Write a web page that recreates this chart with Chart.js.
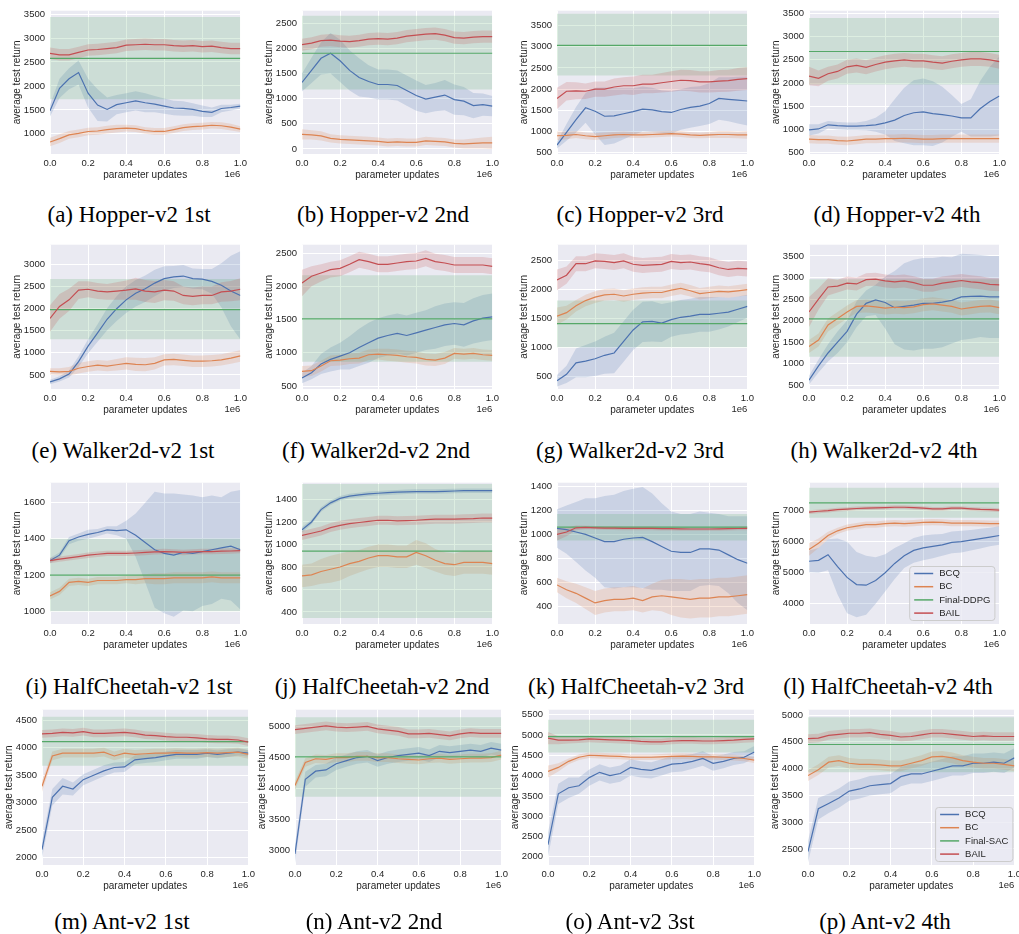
<!DOCTYPE html>
<html lang="en">
<head>
<meta charset="UTF-8">
<title>BAIL learning curves</title>
<script src="https://cdn.jsdelivr.net/npm/chart.js@4"></script>
<style>
  body { margin: 0; background: #fff; width: 1019px; height: 934px; position: relative; overflow: hidden; }
  canvas { position: absolute; }
  .cap { position: absolute; transform: translateX(-50%); white-space: nowrap;
         font-family: 'Liberation Serif', 'Times New Roman', serif; font-size: 23px; line-height: 1; color: #000; }
</style>
</head>
<body>
<script>
// parameter updates (x 1e6)
const steps = [0, 0.05, 0.1, 0.15, 0.2, 0.25, 0.3, 0.35, 0.4, 0.45, 0.5, 0.55, 0.6, 0.65, 0.7, 0.75, 0.8, 0.85, 0.9, 0.95, 1.0];
const xTicks = [0, 0.2, 0.4, 0.6, 0.8, 1.0];

// (a) Hopper-v2 1st
const a_bcq    = [1480,1950,2150,2280,1850,1600,1510,1610,1650,1690,1650,1620,1580,1540,1530,1510,1470,1450,1530,1550,1580];
const a_bcqSd  = [120,200,220,250,300,330,250,200,200,200,200,170,160,150,150,130,120,100,80,60,50];
const a_bc     = [830,900,980,1010,1050,1060,1090,1110,1120,1110,1070,1050,1050,1090,1130,1150,1160,1180,1170,1140,1100];
const a_bcSd   = [90,90,80,80,80,80,80,80,70,70,70,70,70,70,70,70,70,70,70,70,60];
const a_bail   = [2680,2650,2650,2700,2750,2760,2780,2800,2850,2860,2870,2860,2860,2840,2830,2840,2820,2830,2800,2780,2780];
const a_bailSd = [120,120,120,120,120,120,120,120,120,120,120,120,120,120,120,120,120,120,120,120,120];
const a_final  = [2575, 1720, 3440];
const a_yTicks = [1000, 1500, 2000, 2500, 3000, 3500];

// (b) Hopper-v2 2nd
const b_bcq    = [1320,1560,1800,1900,1750,1560,1420,1340,1280,1280,1260,1160,1060,990,1030,1070,980,950,860,880,850];
const b_bcqSd  = [180,250,320,400,420,400,380,320,300,300,300,300,300,280,280,300,300,280,250,220,200];
const b_bc     = [290,280,260,210,190,180,170,160,150,130,140,130,130,160,150,140,110,100,110,120,120];
const b_bcSd   = [100,90,90,80,80,80,80,80,80,80,80,80,80,80,80,80,80,90,100,110,120];
const b_bail   = [2070,2100,2150,2160,2140,2130,2150,2180,2190,2180,2200,2240,2260,2280,2290,2260,2210,2200,2220,2230,2230];
const b_bailSd = [120,120,120,120,120,120,120,120,120,120,120,120,120,120,120,120,120,120,120,120,120];
const b_final  = [1900, 1180, 2645];
const b_yTicks = [0, 500, 1000, 1500, 2000, 2500];

// (c) Hopper-v2 3rd
const c_bcq    = [680,980,1280,1560,1480,1360,1370,1420,1470,1530,1510,1470,1450,1520,1570,1600,1660,1780,1760,1740,1720];
const c_bcqSd  = [80,200,300,350,550,680,650,600,550,530,520,500,500,480,480,470,480,500,520,550,580];
const c_bc     = [900,910,930,900,880,900,920,930,920,920,930,940,950,940,920,910,920,930,930,920,920];
const c_bcSd   = [100,90,80,80,80,80,70,70,70,70,70,70,70,70,70,70,70,80,80,80,90];
const c_bail   = [1780,1950,1960,1950,2000,2000,2050,2080,2080,2120,2120,2150,2180,2210,2200,2170,2170,2190,2200,2230,2250];
const c_bailSd = [250,220,200,180,180,180,200,200,220,220,220,230,240,250,250,250,250,260,260,270,270];
const c_final  = [3030, 2320, 3780];
const c_yTicks = [500, 1000, 1500, 2000, 2500, 3000, 3500];

// (d) Hopper-v2 4th
const d_bcq    = [990,1010,1100,1080,1070,1070,1080,1100,1140,1200,1300,1360,1380,1340,1320,1290,1250,1250,1450,1600,1720];
const d_bcqSd  = [120,100,80,80,80,80,100,150,250,450,600,700,720,700,600,450,300,400,600,750,850];
const d_bc     = [790,780,780,760,750,770,790,790,800,800,810,800,790,790,800,800,800,800,800,800,800];
const d_bcSd   = [90,90,90,90,90,90,90,90,90,90,90,90,90,90,90,90,90,90,90,90,90];
const d_bail   = [2150,2100,2200,2250,2350,2380,2340,2400,2450,2480,2500,2480,2480,2450,2430,2470,2500,2520,2520,2500,2460];
const d_bailSd = [200,170,150,150,150,150,150,150,150,150,150,150,150,150,150,150,150,150,150,150,150];
const d_final  = [2680, 1970, 3400];
const d_yTicks = [500, 1000, 1500, 2000, 2500, 3000, 3500];

// (e) Walker2d-v2 1st
const e_bcq    = [340,410,520,800,1150,1450,1760,2000,2200,2350,2450,2580,2680,2720,2740,2680,2670,2620,2530,2400,2300];
const e_bcqSd  = [50,60,80,120,160,200,250,280,300,300,300,300,280,250,250,230,230,280,500,800,1000];
const e_bc     = [580,570,580,650,690,720,700,730,760,740,730,760,840,850,830,810,810,820,840,880,930];
const e_bcSd   = [70,80,100,120,120,120,120,130,140,150,150,140,130,130,130,130,130,130,130,130,130];
const e_bail   = [1780,2050,2200,2420,2440,2400,2380,2400,2420,2450,2400,2380,2420,2400,2300,2280,2300,2300,2380,2400,2440];
const e_bailSd = [300,280,250,200,180,180,180,200,220,250,250,250,230,220,200,200,200,200,220,230,250];
const e_final  = [1980, 1310, 2670];
const e_yTicks = [500, 1000, 1500, 2000, 2500, 3000];

// (f) Walker2d-v2 2nd
const f_bcq    = [620,700,830,900,950,1000,1080,1150,1220,1260,1290,1260,1300,1340,1380,1420,1440,1420,1480,1520,1540];
const f_bcqSd  = [80,100,150,180,200,250,280,300,300,300,300,300,300,300,320,320,320,330,340,350,350];
const f_bc     = [720,730,800,880,890,910,920,970,980,970,960,940,930,900,890,920,990,980,990,970,960];
const f_bcSd   = [80,80,80,80,80,80,80,80,80,90,90,90,90,90,90,90,80,80,80,80,80];
const f_bail   = [2050,2150,2200,2250,2270,2330,2400,2370,2330,2330,2350,2370,2380,2420,2370,2350,2320,2320,2320,2320,2300];
const f_bailSd = [200,150,130,120,120,120,120,120,120,120,120,120,120,120,120,120,120,120,120,120,120];
const f_final  = [1510, 865, 2165];
const f_yTicks = [500, 1000, 1500, 2000, 2500];

// (g) Walker2d-v2 3rd
const g_bcq    = [420,530,730,760,800,860,900,1100,1300,1440,1450,1420,1480,1520,1540,1570,1570,1590,1610,1660,1710];
const g_bcqSd  = [100,150,250,280,300,320,350,350,350,350,350,330,300,300,300,300,300,280,250,220,200];
const g_bc     = [1540,1600,1720,1810,1870,1910,1920,1890,1920,1940,1950,1950,1990,2020,1980,1930,1950,1970,1960,1980,2000];
const g_bcSd   = [150,120,100,100,100,100,100,100,100,100,100,100,100,100,100,100,100,100,100,100,100];
const g_bail   = [2170,2250,2450,2450,2500,2490,2470,2500,2440,2420,2430,2440,2490,2470,2480,2450,2430,2380,2350,2370,2360];
const g_bailSd = [180,150,130,130,130,130,130,130,130,130,130,130,130,130,130,130,130,130,130,130,130];
const g_final  = [1410, 1000, 1810];
const g_yTicks = [500, 1000, 1500, 2000, 2500];

// (h) Walker2d-v2 4th
const h_bcq    = [620,950,1250,1500,1750,2150,2400,2480,2420,2300,2330,2360,2400,2400,2430,2470,2550,2560,2570,2550,2550];
const h_bcqSd  = [100,150,200,250,250,300,300,350,600,850,1000,1050,1050,1050,1050,1000,1000,980,950,950,950];
const h_bc     = [1400,1550,1900,2050,2200,2330,2340,2320,2290,2310,2300,2320,2370,2390,2360,2330,2270,2300,2330,2340,2300];
const h_bcSd   = [150,150,150,150,150,150,150,150,150,150,150,150,150,150,150,150,150,150,150,150,150];
const h_bail   = [2200,2500,2780,2800,2870,2850,2950,2960,2920,2900,2920,2880,2820,2820,2870,2900,2930,2900,2880,2840,2830];
const h_bailSd = [350,250,200,150,150,150,150,150,150,150,150,150,150,150,150,150,150,150,150,150,150];
const h_final  = [2040, 1160, 2960];
const h_yTicks = [500, 1000, 1500, 2000, 2500, 3000, 3500];

// (i) HalfCheetah-v2 1st
const i_bcq    = [1280,1310,1390,1410,1425,1435,1450,1445,1450,1420,1380,1340,1320,1310,1325,1320,1330,1340,1350,1360,1340];
const i_bcqSd  = [15,15,20,20,25,20,20,25,50,120,220,320,330,340,320,320,300,300,280,300,330];
const i_bc     = [1085,1110,1160,1165,1160,1170,1170,1170,1175,1175,1180,1180,1180,1185,1185,1185,1185,1190,1185,1185,1185];
const i_bcSd   = [20,20,20,20,20,20,20,20,20,25,25,30,30,30,30,30,30,30,30,30,30];
const i_bail   = [1280,1288,1295,1302,1310,1315,1320,1320,1320,1322,1325,1328,1330,1328,1325,1328,1330,1330,1332,1333,1335];
const i_bailSd = [15,15,15,15,15,15,15,15,15,15,15,15,15,15,15,15,15,15,15,15,15];
const i_final  = [1200, 1000, 1400];
const i_yTicks = [1000, 1200, 1400, 1600];

// (j) HalfCheetah-v2 2nd
const j_bcq    = [1130,1200,1310,1370,1410,1430,1440,1450,1455,1460,1465,1468,1470,1470,1470,1472,1475,1478,1478,1478,1478];
const j_bcqSd  = [25,20,20,20,20,20,20,20,20,20,20,20,20,20,20,20,20,20,20,20,20];
const j_bc     = [720,730,760,780,800,830,850,880,900,900,890,890,930,900,860,830,820,840,840,840,830];
const j_bcSd   = [100,100,110,120,120,110,100,100,100,100,100,100,110,110,100,100,100,100,100,100,100];
const j_bail   = [1080,1100,1120,1150,1170,1185,1195,1205,1215,1215,1210,1212,1215,1220,1225,1225,1225,1228,1230,1235,1235];
const j_bailSd = [40,40,40,40,40,40,40,40,40,40,40,40,40,40,40,40,40,40,40,40,40];
const j_final  = [940, 347, 1537];
const j_yTicks = [400, 600, 800, 1000, 1200, 1400];

// (k) HalfCheetah-v2 3rd
const k_bcq    = [1050,1040,1020,1000,970,940,940,960,970,975,940,900,860,850,850,880,880,870,830,790,760];
const k_bcqSd  = [160,200,250,300,330,380,390,400,410,420,400,360,330,320,320,310,300,300,320,360,390];
const k_bc     = [580,540,510,470,430,450,460,460,470,450,480,490,480,470,460,470,470,480,480,490,500];
const k_bcSd   = [60,70,80,90,100,100,100,100,100,100,110,130,150,160,160,160,160,160,160,160,160];
const k_bail   = [1000,1020,1055,1058,1055,1053,1052,1050,1050,1050,1050,1048,1048,1046,1045,1045,1045,1046,1048,1049,1050];
const k_bailSd = [50,35,20,15,15,15,15,15,15,15,15,15,15,15,15,15,15,15,15,15,15];
const k_final  = [1060, 950, 1170];
const k_yTicks = [400, 600, 800, 1000, 1200, 1400];

// (l) HalfCheetah-v2 4th
const l_bcq    = [5370,5400,5580,5200,4850,4620,4600,4750,5000,5300,5550,5720,5800,5850,5900,5980,6000,6050,6100,6150,6200];
const l_bcqSd  = [350,400,500,900,1150,1050,950,750,600,500,400,400,400,380,350,350,350,330,320,300,300];
const l_bc     = [5750,5950,6200,6350,6450,6500,6550,6550,6580,6600,6580,6600,6620,6630,6620,6600,6600,6600,6590,6580,6580];
const l_bcSd   = [200,150,120,100,100,100,100,100,100,100,100,100,100,100,100,100,100,100,100,100,100];
const l_bail   = [6950,6980,7000,7030,7050,7070,7080,7090,7100,7110,7110,7100,7080,7060,7060,7080,7080,7060,7040,7030,7020];
const l_bailSd = [60,60,60,60,60,60,60,60,60,60,60,60,60,60,60,60,60,60,60,60,60];
const l_final  = [7250, 6770, 7740];
const l_yTicks = [4000, 5000, 6000, 7000];

// (m) Ant-v2 1st
const m_bcq    = [2150,3100,3300,3250,3420,3500,3580,3640,3650,3780,3800,3820,3850,3880,3880,3880,3900,3880,3900,3920,3900];
const m_bcqSd  = [150,150,150,120,100,100,100,90,90,80,80,80,80,80,80,80,70,70,70,60,60];
const m_bc     = [3300,3850,3900,3900,3900,3900,3920,3850,3900,3880,3890,3900,3900,3910,3900,3900,3910,3900,3910,3920,3880];
const m_bcSd   = [100,80,80,80,80,80,80,80,80,80,80,80,80,80,80,80,80,80,80,80,80];
const m_bail   = [4250,4260,4280,4270,4290,4260,4260,4270,4280,4260,4230,4220,4200,4190,4190,4180,4160,4150,4150,4140,4100];
const m_bailSd = [70,70,70,70,70,70,70,70,70,70,70,70,70,70,70,70,70,70,70,70,70];
const m_final  = [4110, 3670, 4560];
const m_yTicks = [2000, 2500, 3000, 3500, 4000, 4500];

// (n) Ant-v2 2nd
const n_bcq    = [2950,4150,4280,4300,4400,4450,4500,4520,4450,4500,4530,4550,4570,4530,4600,4580,4600,4620,4600,4650,4620];
const n_bcqSd  = [150,120,100,100,100,100,100,100,100,100,100,100,100,100,100,100,100,100,100,100,100];
const n_bc     = [4050,4420,4480,4470,4500,4500,4520,4520,4500,4500,4480,4470,4460,4480,4490,4470,4480,4490,4490,4500,4540];
const n_bcSd   = [70,70,70,70,70,70,70,70,70,70,70,70,70,70,70,70,70,70,70,70,70];
const n_bail   = [4950,4970,4990,5010,4990,4980,4990,5000,4960,4940,4920,4880,4880,4890,4870,4850,4880,4900,4890,4890,4890];
const n_bailSd = [70,70,70,70,70,70,70,70,70,70,70,70,70,70,70,70,70,70,70,70,70];
const n_final  = [4510, 3870, 5150];
const n_yTicks = [3000, 3500, 4000, 4500, 5000];

// (o) Ant-v2 3st
const o_bcq    = [2300,3550,3700,3750,3950,4080,4000,4050,4200,4150,4130,4200,4280,4300,4350,4420,4300,4350,4420,4450,4580];
const o_bcqSd  = [300,250,250,200,200,200,200,200,200,200,200,200,200,200,180,180,180,170,160,150,150];
const o_bc     = [4100,4200,4350,4450,4500,4490,4480,4470,4450,4450,4450,4460,4470,4480,4470,4460,4460,4450,4440,4420,4380];
const o_bcSd   = [150,100,70,70,70,70,70,70,70,70,70,70,70,70,70,70,70,70,70,70,70];
const o_bail   = [4920,4870,4870,4880,4900,4890,4880,4870,4860,4840,4830,4830,4850,4860,4860,4850,4850,4860,4870,4890,4900];
const o_bailSd = [150,100,80,80,80,80,80,80,80,80,80,80,80,80,80,80,80,80,80,80,80];
const o_final  = [4960, 4570, 5370];
const o_yTicks = [2000, 2500, 3000, 3500, 4000, 4500, 5000, 5500];

// (p) Ant-v2 4th
const p_bcq    = [2450,3250,3350,3450,3580,3620,3680,3700,3720,3850,3900,3900,3950,4000,4050,4050,4100,4100,4120,4100,4200];
const p_bcqSd  = [200,200,180,180,180,180,180,180,180,180,180,180,180,180,180,180,180,180,180,180,180];
const p_bc     = [3870,3980,4120,4150,4100,4080,4080,4070,4050,4050,4100,4150,4220,4230,4200,4150,4120,4100,4100,4080,4050];
const p_bcSd   = [100,100,100,100,100,100,100,100,100,100,100,100,100,100,100,100,100,100,100,100,100];
const p_bail   = [4560,4570,4620,4640,4660,4660,4670,4640,4620,4590,4600,4630,4660,4660,4640,4620,4600,4610,4600,4600,4600];
const p_bailSd = [80,80,80,80,80,80,80,80,80,80,80,80,80,80,80,80,80,80,80,80,80];
const p_final  = [4450, 3930, 4960];
const p_yTicks = [2500, 3000, 3500, 4000, 4500, 5000];

const BLUE = '#4C72B0', ORANGE = '#DD8452', GREEN = '#55A868', RED = '#C44E52';
const FONT = "'Liberation Sans', Arial, sans-serif";

const panels = [
  { cap: '(a) Hopper-v2 1st', bcq: a_bcq, bcqSd: a_bcqSd, bc: a_bc, bcSd: a_bcSd, bail: a_bail, bailSd: a_bailSd, fin: a_final, yTicks: a_yTicks, yMin: 580, yMax: 3570 },
  { cap: '(b) Hopper-v2 2nd', bcq: b_bcq, bcqSd: b_bcqSd, bc: b_bc, bcSd: b_bcSd, bail: b_bail, bailSd: b_bailSd, fin: b_final, yTicks: b_yTicks, yMin: -100, yMax: 2745 },
  { cap: '(c) Hopper-v2 3rd', bcq: c_bcq, bcqSd: c_bcqSd, bc: c_bc, bcSd: c_bcSd, bail: c_bail, bailSd: c_bailSd, fin: c_final, yTicks: c_yTicks, yMin: 470, yMax: 3850 },
  { cap: '(d) Hopper-v2 4th', bcq: d_bcq, bcqSd: d_bcqSd, bc: d_bc, bcSd: d_bcSd, bail: d_bail, bailSd: d_bailSd, fin: d_final, yTicks: d_yTicks, yMin: 470, yMax: 3560 },
  { cap: '(e) Walker2d-v2 1st', bcq: e_bcq, bcqSd: e_bcqSd, bc: e_bc, bcSd: e_bcSd, bail: e_bail, bailSd: e_bailSd, fin: e_final, yTicks: e_yTicks, yMin: 180, yMax: 3450 },
  { cap: '(f) Walker2d-v2 2nd', bcq: f_bcq, bcqSd: f_bcqSd, bc: f_bc, bcSd: f_bcSd, bail: f_bail, bailSd: f_bailSd, fin: f_final, yTicks: f_yTicks, yMin: 455, yMax: 2625 },
  { cap: '(g) Walker2d-v2 3rd', bcq: g_bcq, bcqSd: g_bcqSd, bc: g_bc, bcSd: g_bcSd, bail: g_bail, bailSd: g_bailSd, fin: g_final, yTicks: g_yTicks, yMin: 275, yMax: 2780 },
  { cap: '(h) Walker2d-v2 4th', bcq: h_bcq, bcqSd: h_bcqSd, bc: h_bc, bcSd: h_bcSd, bail: h_bail, bailSd: h_bailSd, fin: h_final, yTicks: h_yTicks, yMin: 415, yMax: 3760 },
  { cap: '(i) HalfCheetah-v2 1st', bcq: i_bcq, bcqSd: i_bcqSd, bc: i_bc, bcSd: i_bcSd, bail: i_bail, bailSd: i_bailSd, fin: i_final, yTicks: i_yTicks, yMin: 930, yMax: 1710 },
  { cap: '(j) HalfCheetah-v2 2nd', bcq: j_bcq, bcqSd: j_bcqSd, bc: j_bc, bcSd: j_bcSd, bail: j_bail, bailSd: j_bailSd, fin: j_final, yTicks: j_yTicks, yMin: 293, yMax: 1549 },
  { cap: '(k) HalfCheetah-v2 3rd', bcq: k_bcq, bcqSd: k_bcqSd, bc: k_bc, bcSd: k_bcSd, bail: k_bail, bailSd: k_bailSd, fin: k_final, yTicks: k_yTicks, yMin: 255, yMax: 1430 },
  { cap: '(l) HalfCheetah-v2 4th', bcq: l_bcq, bcqSd: l_bcqSd, bc: l_bc, bcSd: l_bcSd, bail: l_bail, bailSd: l_bailSd, fin: l_final, yTicks: l_yTicks, yMin: 3350, yMax: 7900, legend: 'Final-DDPG', legInset: 5 },
  { cap: '(m) Ant-v2 1st', bcq: m_bcq, bcqSd: m_bcqSd, bc: m_bc, bcSd: m_bcSd, bail: m_bail, bailSd: m_bailSd, fin: m_final, yTicks: m_yTicks, yMin: 1870, yMax: 4690 },
  { cap: '(n) Ant-v2 2nd', bcq: n_bcq, bcqSd: n_bcqSd, bc: n_bc, bcSd: n_bcSd, bail: n_bail, bailSd: n_bailSd, fin: n_final, yTicks: n_yTicks, yMin: 2770, yMax: 5270 },
  { cap: '(o) Ant-v2 3st', bcq: o_bcq, bcqSd: o_bcqSd, bc: o_bc, bcSd: o_bcSd, bail: o_bail, bailSd: o_bailSd, fin: o_final, yTicks: o_yTicks, yMin: 1800, yMax: 5620 },
  { cap: '(p) Ant-v2 4th', bcq: p_bcq, bcqSd: p_bcqSd, bc: p_bc, bcSd: p_bcSd, bail: p_bail, bailSd: p_bailSd, fin: p_final, yTicks: p_yTicks, yMin: 2200, yMax: 5100, legend: 'Final-SAC', legInset: 2 }
];

// page geometry: plot areas of each row, caption centres
const rows = [
  { top: 10,  bottom: 154, lefts: [50, 302, 557, 809], w: 191, capY: 203, capX: [129, 383, 640, 897] },
  { top: 244, bottom: 389, lefts: [50, 302, 557, 809], w: 191, capY: 439, capX: [123, 376, 630, 884] },
  { top: 482, bottom: 624, lefts: [50, 302, 557, 809], w: 191, capY: 675, capX: [129, 382, 636, 888] },
  { top: 709, bottom: 865, lefts: [42, 295, 548, 808], w: 207, capY: 910, capX: [122, 374, 630, 885] }
];

Chart.defaults.font.family = FONT;
Chart.defaults.color = '#262626';

const plotBg = {
  id: 'plotBg',
  beforeDraw(chart) {
    const a = chart.chartArea, ctx = chart.ctx;
    ctx.save();
    ctx.fillStyle = '#EAEAF2';
    ctx.fillRect(a.left, a.top, a.right - a.left, a.bottom - a.top);
    ctx.restore();
  }
};

const sciLabel = {
  id: 'sciLabel',
  afterDraw(chart) {
    const a = chart.chartArea, ctx = chart.ctx;
    ctx.save();
    ctx.font = '9.5px ' + FONT;
    ctx.fillStyle = '#262626';
    ctx.textAlign = 'right';
    ctx.textBaseline = 'middle';
    ctx.fillText('1e6', a.right, a.bottom + 20);
    ctx.restore();
  }
};

const boxLegend = {
  id: 'boxLegend',
  afterDraw(chart, args, opts) {
    if (!opts.items) return;
    const a = chart.chartArea, ctx = chart.ctx;
    ctx.save();
    ctx.font = '9.5px ' + FONT;
    const tw = Math.max(...opts.items.map(it => ctx.measureText(it.label).width));
    const w = 5 + 19 + 6 + tw + 4, h = 54;
    const x = a.right - opts.inset - w, y = a.bottom - 4 - h;
    ctx.beginPath();
    ctx.roundRect(x + 0.5, y + 0.5, w, h, 3);
    ctx.fillStyle = 'rgba(234,234,242,0.8)';
    ctx.fill();
    ctx.strokeStyle = '#CCCCCC';
    ctx.lineWidth = 1;
    ctx.stroke();
    opts.items.forEach((it, i) => {
      const yy = y + 7.5 + i * 13.2;
      ctx.strokeStyle = it.color;
      ctx.lineWidth = 1.5;
      ctx.beginPath();
      ctx.moveTo(x + 5, yy);
      ctx.lineTo(x + 24, yy);
      ctx.stroke();
      ctx.fillStyle = '#262626';
      ctx.textBaseline = 'middle';
      ctx.fillText(it.label, x + 30, yy);
    });
    ctx.restore();
  }
};

const xy = arr => arr.map((v, i) => ({ x: steps[i], y: v }));
const shift = (mean, sd, s) => xy(mean.map((m, i) => m + s * sd[i]));
const flat = v => [{ x: 0, y: v }, { x: 1, y: v }];
const alpha = (hex, a) => {
  const n = parseInt(hex.slice(1), 16);
  return `rgba(${n >> 16},${(n >> 8) & 255},${n & 255},${a})`;
};

function lineSet(data, color, order) {
  return { data, borderColor: color, borderWidth: 1.2, pointRadius: 0, tension: 0, fill: false, order };
}
function bandSet(hi, lo, color, order) {
  return [
    { data: hi, borderWidth: 0, pointRadius: 0, tension: 0, fill: '+1', backgroundColor: alpha(color, 0.2), order },
    { data: lo, borderWidth: 0, pointRadius: 0, tension: 0, fill: false, order }
  ];
}

panels.forEach((p, idx) => {
  const row = rows[Math.floor(idx / 4)], col = idx % 4;
  const left = row.lefts[col] - 42, top = row.top - 10;
  const width = row.w + 42 + 10, height = row.bottom - row.top + 40;

  const cv = document.createElement('canvas');
  cv.width = width; cv.height = height;
  cv.style.left = left + 'px'; cv.style.top = top + 'px';
  document.body.appendChild(cv);

  const cap = document.createElement('div');
  cap.className = 'cap';
  cap.textContent = p.cap;
  cap.style.left = row.capX[col] + 'px';
  cap.style.top = row.capY + 'px';
  document.body.appendChild(cap);

  const datasets = [
    lineSet(xy(p.bail), RED, 0),
    lineSet(flat(p.fin[0]), GREEN, 1),
    lineSet(xy(p.bc), ORANGE, 2),
    lineSet(xy(p.bcq), BLUE, 3),
    ...bandSet(shift(p.bail, p.bailSd, 1), shift(p.bail, p.bailSd, -1), RED, 10),
    ...bandSet(flat(p.fin[2]), flat(p.fin[1]), GREEN, 11),
    ...bandSet(shift(p.bc, p.bcSd, 1), shift(p.bc, p.bcSd, -1), ORANGE, 12),
    ...bandSet(shift(p.bcq, p.bcqSd, 1), shift(p.bcq, p.bcqSd, -1), BLUE, 13)
  ];

  new Chart(cv, {
    type: 'line',
    data: { datasets },
    options: {
      responsive: false,
      animation: false,
      events: [],
      layout: { padding: { top: 10, right: 10, left: 0, bottom: 0 } },
      plugins: {
        legend: { display: false },
        tooltip: { enabled: false },
        boxLegend: p.legend ? { inset: p.legInset, items: [
          { label: 'BCQ', color: BLUE }, { label: 'BC', color: ORANGE },
          { label: p.legend, color: GREEN }, { label: 'BAIL', color: RED }
        ] } : {}
      },
      scales: {
        x: {
          type: 'linear', min: 0, max: 1,
          afterBuildTicks: s => { s.ticks = xTicks.map(v => ({ value: v })); },
          afterFit: s => { s.height = 30; },
          ticks: { autoSkip: false, maxRotation: 0, padding: 4, font: { size: 9.5 }, callback: v => v.toFixed(1) },
          grid: { color: '#FFFFFF', lineWidth: 1, drawTicks: false },
          border: { display: false },
          title: { display: true, text: 'parameter updates', font: { size: 10 }, padding: { top: 0, bottom: 3 } }
        },
        y: {
          min: p.yMin, max: p.yMax,
          afterBuildTicks: s => { s.ticks = p.yTicks.map(v => ({ value: v })); },
          afterFit: s => { s.width = 42; },
          ticks: { autoSkip: false, padding: 5, font: { size: 9.5 }, callback: v => String(v) },
          grid: { color: '#FFFFFF', lineWidth: 1, drawTicks: false },
          border: { display: false },
          title: { display: true, text: 'average test return', font: { size: 10 }, padding: { top: 3, bottom: 0 } }
        }
      }
    },
    plugins: [plotBg, sciLabel, boxLegend]
  });
});
</script>
</body>
</html>
